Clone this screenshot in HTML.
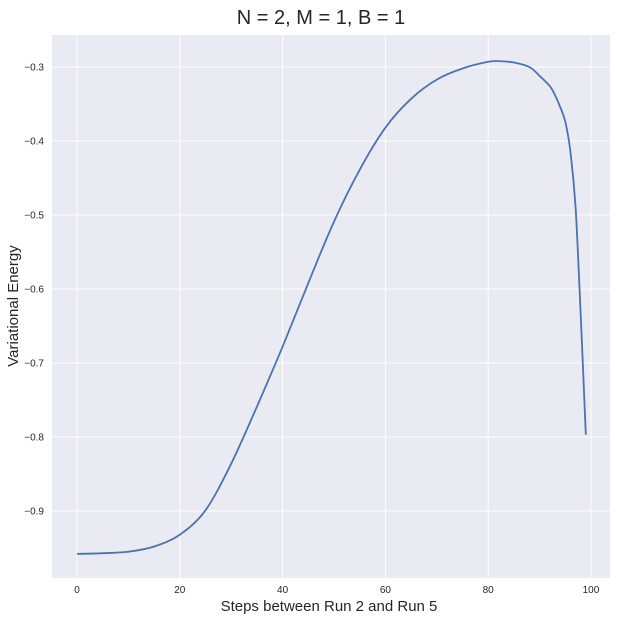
<!DOCTYPE html>
<html><head><meta charset="utf-8"><style>
body{margin:0;background:#fff;font-family:"Liberation Sans",sans-serif}
</style></head><body>
<svg id="chart" width="617" height="620" xmlns="http://www.w3.org/2000/svg">
<rect x="52" y="35" width="558" height="543" fill="#eaeaf2"/>
<g id="grid"></g><g id="ticks"></g>
<path id="line" fill="none" stroke="#4c72b0" stroke-width="1.8"/>
<text x="321" y="24" text-anchor="middle" font-size="20" fill="#262626">N = 2, M = 1, B = 1</text>
<text x="329" y="611" text-anchor="middle" font-size="15" fill="#262626">Steps between Run 2 and Run 5</text>
<text transform="translate(18,306) rotate(-90)" text-anchor="middle" font-size="15" fill="#262626">Variational Energy</text>
</svg>
<script>
const steps=[0,5,10,15,20,25,30,35,40,45,50,55,60,65,70,75,80,82,85,88,90,92,93,94,95,96,97,98,99];
const energy=[-0.958,-0.957,-0.955,-0.948,-0.932,-0.899,-0.836,-0.759,-0.678,-0.592,-0.509,-0.439,-0.382,-0.343,-0.317,-0.302,-0.293,-0.292,-0.294,-0.300,-0.312,-0.326,-0.338,-0.354,-0.374,-0.414,-0.490,-0.635,-0.797];
const xTicks=[0,20,40,60,80,100];
const yTicks=[-0.9,-0.8,-0.7,-0.6,-0.5,-0.4,-0.3];
const L=52,R=610,T=35,B=578,x0=-4.86,x1=103.7,y0=-0.9905,y1=-0.2568;
const sx=v=>L+(v-x0)/(x1-x0)*(R-L);
const sy=v=>B-(v-y0)/(y1-y0)*(B-T);
const NS="http://www.w3.org/2000/svg";
const g=document.getElementById('grid'),tk=document.getElementById('ticks');
function mk(tag,a,p){const e=document.createElementNS(NS,tag);for(const k in a)e.setAttribute(k,a[k]);p.appendChild(e);return e;}
xTicks.forEach(v=>{
 const l=mk('line',{x1:sx(v),x2:sx(v),y1:T,y2:B,stroke:'#fff','stroke-width':1},g);
 
 
 const t=mk('text',{x:sx(v),y:B+15,'text-anchor':'middle','font-size':10,fill:'#262626'},tk);
 t.textContent=v;
 
 
});
yTicks.forEach(v=>{
 const l=mk('line',{x1:L,x2:R,y1:sy(v),y2:sy(v),stroke:'#fff','stroke-width':1},g);
 
 
 const t=mk('text',{x:L-8,y:sy(v)+3.5,'text-anchor':'end','font-size':10,fill:'#262626'},tk);
 t.textContent='\u2212'+Math.abs(v).toFixed(1);
 
 
});
// Catmull-Rom smoothing through data points
const P=steps.map((s,i)=>[sx(s),sy(energy[i])]);
let d='M'+P[0][0].toFixed(1)+','+P[0][1].toFixed(1);
for(let i=0;i<P.length-1;i++){
 const p0=P[Math.max(i-1,0)],p1=P[i],p2=P[i+1],p3=P[Math.min(i+2,P.length-1)];
 const c1=[p1[0]+(p2[0]-p0[0])/6,p1[1]+(p2[1]-p0[1])/6];
 const c2=[p2[0]-(p3[0]-p1[0])/6,p2[1]-(p3[1]-p1[1])/6];
 d+='C'+c1.map(v=>v.toFixed(1)).join(',')+' '+c2.map(v=>v.toFixed(1)).join(',')+' '+p2.map(v=>v.toFixed(1)).join(',');
}
document.getElementById('line').setAttribute('d',d);
</script>
</body></html>
